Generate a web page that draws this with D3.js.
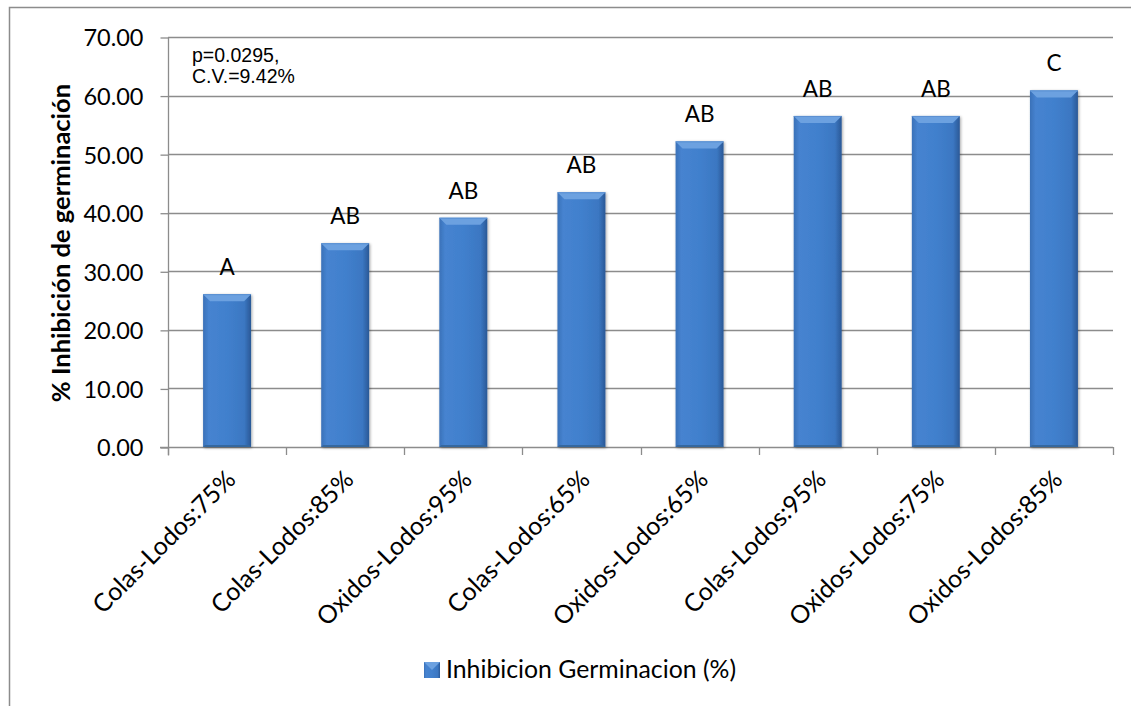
<!DOCTYPE html>
<html>
<head>
<meta charset="utf-8">
<script src="https://cdn.jsdelivr.net/npm/d3@7/dist/d3.min.js"></script>
<style>
  html, body { margin: 0; padding: 0; background: #fff; }
  svg { display: block; }
</style>
</head>
<body>
<svg id="chart" width="1131" height="706"></svg>
<script>
// Germination inhibition by treatment, ordered from lowest to highest
const categories = [
  "Colas-Lodos:75%", "Colas-Lodos:85%", "Oxidos-Lodos:95%", "Colas-Lodos:65%",
  "Oxidos-Lodos:65%", "Colas-Lodos:95%", "Oxidos-Lodos:75%", "Oxidos-Lodos:85%"
];
const inhibition = [26.09, 34.78, 39.13, 43.48, 52.17, 56.52, 56.52, 60.87];
const groups = ["A", "AB", "AB", "AB", "AB", "AB", "AB", "C"];
const yTicks = [0, 10, 20, 30, 40, 50, 60, 70];
const seriesName = "Inhibicion Germinacion (%)";
const yTitle = "% Inhibición de germinación";
const statsLines = ["p=0.0295,", "C.V.=9.42%"];

const svg = d3.select("#chart");
const W = 1131, H = 706;
const plot = { left: 168, right: 1113, top: 37, bottom: 447 };
const labelFont = "Lato, 'Open Sans', sans-serif";
const gridColor = "#8c8c8c";

// Outer chart frame
svg.append("path")
  .attr("d", `M9.5,${H} L9.5,7.5 L${W},7.5`)
  .attr("fill", "none").attr("stroke", gridColor).attr("stroke-width", 1.5);

const x = d3.scaleBand().domain(categories)
  .range([plot.left, plot.right]).paddingInner(0.594).paddingOuter(0.297);
const y = d3.scaleLinear().domain([0, 70]).range([plot.bottom, plot.top]);

// Gradients for the bevelled bars
const defs = svg.append("defs");
const body = defs.append("linearGradient").attr("id", "barBody")
  .attr("x1", "0").attr("x2", "1").attr("y1", "0").attr("y2", "0");
[[0, "#3a71b8"], [0.12, "#4683d0"], [0.5, "#4180cd"], [0.86, "#3b77c2"], [1, "#2a5896"]]
  .forEach(([o, c]) => body.append("stop").attr("offset", o).attr("stop-color", c));
const shadow = defs.append("filter").attr("id", "barShadow")
  .attr("x", "-20%").attr("y", "-5%").attr("width", "140%").attr("height", "115%");
shadow.append("feGaussianBlur").attr("in", "SourceAlpha").attr("stdDeviation", 1.6).attr("result", "b");
shadow.append("feOffset").attr("in", "b").attr("dx", 1).attr("dy", 1).attr("result", "o");
shadow.append("feComponentTransfer").attr("in", "o").attr("result", "s")
  .append("feFuncA").attr("type", "linear").attr("slope", 0.35);
const merge = shadow.append("feMerge");
merge.append("feMergeNode").attr("in", "s");
merge.append("feMergeNode").attr("in", "SourceGraphic");

// Horizontal gridlines
svg.append("g").selectAll("line").data(yTicks.filter(t => t > 0)).join("line")
  .attr("x1", plot.left).attr("x2", plot.right)
  .attr("y1", d => Math.round(y(d)) + 0.5).attr("y2", d => Math.round(y(d)) + 0.5)
  .attr("stroke", gridColor).attr("stroke-width", 1.3);

// Y axis
const yAxis = svg.append("g").attr("transform", `translate(${plot.left + 0.5},0.5)`)
  .call(d3.axisLeft(y).tickValues(yTicks).tickFormat(d3.format(".2f")).tickSize(8).tickPadding(17));
yAxis.select(".domain").attr("stroke", gridColor).attr("stroke-width", 1.3)
  .attr("d", `M0,${plot.top} V${plot.bottom + 8}`);
yAxis.selectAll(".tick line").attr("stroke", gridColor).attr("stroke-width", 1.3);
yAxis.selectAll(".tick text").attr("font-family", labelFont).attr("font-size", 23.5)
  .attr("fill", "#000").attr("dy", "0.36em");

// X axis: baseline with ticks at category boundaries
const step = x.step();
const bounds = categories.map(c => x(c) + x.bandwidth() / 2 - step / 2).concat([plot.right]);
const xAxis = svg.append("g");
xAxis.append("line").attr("x1", plot.left - 8).attr("x2", plot.right)
  .attr("y1", plot.bottom + 0.5).attr("y2", plot.bottom + 0.5)
  .attr("stroke", gridColor).attr("stroke-width", 1.3);
xAxis.selectAll("line.tk").data(bounds).join("line").attr("class", "tk")
  .attr("x1", d => Math.round(d) + 0.5).attr("x2", d => Math.round(d) + 0.5)
  .attr("y1", plot.bottom).attr("y2", plot.bottom + 8)
  .attr("stroke", gridColor).attr("stroke-width", 1.3);
xAxis.selectAll("text").data(categories).join("text")
  .attr("transform", d => `translate(${x(d) + x.bandwidth() / 2 + 10},${plot.bottom + 34}) rotate(-45)`)
  .attr("text-anchor", "end")
  .attr("font-family", labelFont).attr("font-size", 25).attr("fill", "#000")
  .text(d => d);

// Bars with a bevelled top and sides
const bars = svg.append("g").selectAll("g").data(categories).join("g")
  .attr("filter", "url(#barShadow)");
bars.each(function (c, i) {
  const g = d3.select(this);
  const x0 = x(c), w = x.bandwidth(), x1 = x0 + w;
  const y0 = y(inhibition[i]), y1 = y(0);
  const b = 7;
  g.append("rect").attr("x", x0).attr("y", y0).attr("width", w).attr("height", y1 - y0)
    .attr("fill", "url(#barBody)");
  // top bevel
  g.append("path").attr("d", `M${x0},${y0} L${x1},${y0} L${x1 - b},${y0 + b} L${x0 + b},${y0 + b} Z`)
    .attr("fill", "#6ca1e0");
  g.append("line").attr("x1", x0).attr("x2", x1).attr("y1", y0 + 0.5).attr("y2", y0 + 0.5)
    .attr("stroke", "#5a90d2").attr("stroke-width", 1);
  // bottom shade
  g.append("path").attr("d", `M${x0},${y1} L${x1},${y1} L${x1 - 2},${y1 - 2} L${x0 + 2},${y1 - 2} Z`)
    .attr("fill", "#34679f");
});

// Group letters above each bar
svg.append("g").selectAll("text").data(categories).join("text")
  .attr("x", d => x(d) + x.bandwidth() / 2)
  .attr("y", (d, i) => y(inhibition[i]) - 19)
  .attr("text-anchor", "middle")
  .attr("font-family", labelFont).attr("font-size", 22.5).attr("fill", "#000")
  .text((d, i) => groups[i]);

// Y axis title
svg.append("text")
  .attr("transform", `translate(70,${(plot.top + plot.bottom) / 2 + 1}) rotate(-90)`)
  .attr("text-anchor", "middle")
  .attr("font-family", labelFont).attr("font-weight", "bold").attr("font-size", 25.5)
  .attr("fill", "#000").text(yTitle);

// Statistics note
svg.append("g").selectAll("text").data(statsLines).join("text")
  .attr("x", 192).attr("y", (d, i) => 62 + i * 21)
  .attr("font-family", "'Liberation Sans', Arial, sans-serif").attr("font-size", 19.5)
  .attr("fill", "#000").text(d => d);

// Legend
const legend = svg.append("g").attr("transform", "translate(424,662)");
legend.append("rect").attr("width", 16).attr("height", 16).attr("fill", "url(#barBody)");
legend.append("path").attr("d", "M0,0 L16,0 L8,8 Z").attr("fill", "#6ca1e0");
legend.append("text").attr("x", 22).attr("y", 16)
  .attr("font-family", labelFont).attr("font-size", 24.8).attr("fill", "#000")
  .text(seriesName);
</script>
</body>
</html>
